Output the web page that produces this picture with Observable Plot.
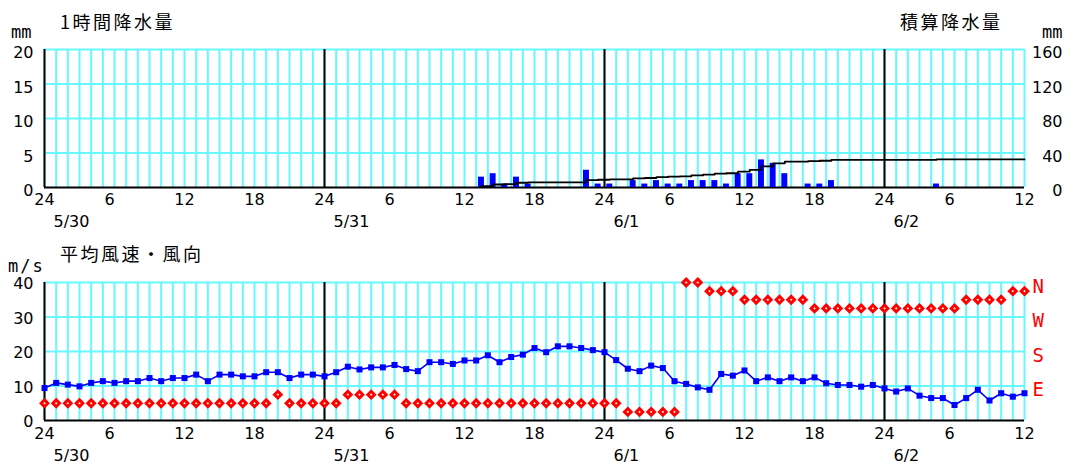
<!DOCTYPE html>
<html><head><meta charset="utf-8">
<script src="https://cdn.jsdelivr.net/npm/d3@7"></script>
<script src="https://cdn.jsdelivr.net/npm/@observablehq/plot@0.6"></script>
<style>
html,body{margin:0;padding:0;background:#fff;overflow:hidden;}
#wrap{position:relative;width:1071px;height:466px;overflow:hidden;background:#fff;}
.t{position:absolute;white-space:nowrap;line-height:1;color:#000;}
.jp{font-family:"Noto Sans CJK JP";font-size:18px;letter-spacing:2.5px;}
.u{font-family:"DejaVu Sans Mono";font-size:17px;}
.p{position:absolute;left:0;}
</style></head><body>
<div id="wrap">
  <div id="p1" class="p" style="top:0"></div>
  <div id="p2" class="p" style="top:232px"></div>
  <div class="t jp" style="left:60px;top:12px">1時間降水量</div>
  <div class="t jp" style="left:900px;top:12px">積算降水量</div>
  <div class="t u" style="left:11px;top:24px">mm</div>
  <div class="t u" style="left:1042px;top:24px">mm</div>
  <div class="t jp" style="left:60px;top:244px">平均風速・風向</div>
  <div class="t u" style="left:8px;top:258px;letter-spacing:2px">m/s</div>
</div>
<script>
// ---- data (hour index 0 = 5/30 00:00, 84 = 6/2 12:00) ----
const dayLabels = ["5/30", "5/31", "6/1", "6/2"];
const dayStartHours = [0, 24, 48, 72];
const xTickHours = [0, 6, 12, 18, 24, 30, 36, 42, 48, 54, 60, 66, 72, 78, 84];
const xTickLabels = ["24", "6", "12", "18", "24", "6", "12", "18", "24", "6", "12", "18", "24", "6", "12"];
const rainTicks = [0, 5, 10, 15, 20];
const rainTickLabels = ["0", "5", "10", "15", "20"];
const cumTickLabels = ["0", "40", "80", "120", "160"];
const windTicks = [0, 10, 20, 30, 40];
const windTickLabels = ["0", "10", "20", "30", "40"];
const dirAxisLabels = ["E", "S", "W", "N"];
const dirAxisValues = [10, 20, 30, 40];

// hourly precipitation: hour index at end of the hour, amount (mm)
const rainHourEnd = [38, 39, 40, 41, 42, 47, 48, 49, 51, 52, 53, 54, 55, 56, 57, 58, 59, 60, 61, 62, 63, 64, 66, 67, 68, 77];
const rainMm =      [1.5, 2.0, 0.5, 1.5, 0.5, 2.5, 0.5, 0.5, 1.0, 0.5, 1.0, 0.5, 0.5, 1.0, 1.0, 1.0, 0.5, 2.0, 2.0, 4.0, 3.5, 2.0, 0.5, 0.5, 1.0, 0.5];

// mean wind speed (m/s), hours 0..84
const windSpeed = [
  9.4, 10.9, 10.4, 9.9, 10.9, 11.4, 10.9, 11.4, 11.4, 12.3, 11.4, 12.3, 12.3, 13.3, 11.4, 13.3, 13.3, 12.8, 12.8, 14.0, 14.0, 12.3, 13.3, 13.3, 12.8,
  14.0, 15.6, 14.8, 15.4, 15.4, 16.1, 14.9, 14.3, 16.9, 16.9, 16.4, 17.4, 17.4, 18.9, 16.9, 18.4, 19.1, 21.0, 19.8, 21.5, 21.5, 21.0, 20.4, 19.8,
  17.5, 15.0, 14.3, 15.9, 15.2, 11.4, 10.6, 9.6, 8.9, 13.5, 13.0, 14.5, 11.4, 12.5, 11.4, 12.5, 11.4, 12.5, 10.8, 10.3, 10.3, 9.8, 10.3, 9.3,
  8.4, 9.3, 7.2, 6.5, 6.5, 4.5, 6.5, 8.9, 5.8, 7.9, 6.9, 7.9
];
// wind direction (16 points), hours 0..84
const windDir = [
  "NE","NE","NE","NE","NE","NE","NE","NE","NE","NE","NE","NE","NE","NE","NE","NE","NE","NE","NE","NE","ENE","NE","NE","NE","NE",
  "NE","ENE","ENE","ENE","ENE","ENE","NE","NE","NE","NE","NE","NE","NE","NE","NE","NE","NE","NE","NE","NE","NE","NE","NE","NE",
  "NE","NNE","NNE","NNE","NNE","NNE","N","N","NNW","NNW","NNW","NW","NW","NW","NW","NW","NW","WNW","WNW","WNW","WNW","WNW","WNW","WNW",
  "WNW","WNW","WNW","WNW","WNW","WNW","NW","NW","NW","NW","NNW","NNW"
];
const compass16 = ["N","NNE","NE","ENE","E","ESE","SE","SSE","S","SSW","SW","WSW","W","WNW","NW","NNW"];

// ---- derived tables ----
const hourGrid = d3.range(0, 85);
const rain = rainHourEnd.map((h, i) => ({h, mm: rainMm[i]}));
const cumRain = d3.cumsum(rainMm);
const cum = rain.map((d, i) => ({x: d.h - 0.55, c: cumRain[i]}));
cum.push({x: 84, c: cumRain[cumRain.length - 1]});
const wind = windSpeed.map((v, i) => {
  const k = compass16.indexOf(windDir[i]);
  return {h: i, speed: v, dir: (k === 0 ? 16 : k) * 2.5};
});
const xt = xTickHours.map((h, i) => ({h, label: xTickLabels[i]}));
const days = dayStartHours.map((h, i) => ({h, label: dayLabels[i]}));

const GRID = "#66f7ff";
const NUM = "DejaVu Sans";

function gridMarks(yGrid) {
  return [
    Plot.ruleX(hourGrid, {stroke: GRID, strokeWidth: 2}),
    Plot.ruleY(yGrid, {stroke: GRID, strokeWidth: 2}),
    Plot.ruleX(dayStartHours, {stroke: "#000", strokeWidth: 2}),
    Plot.ruleY([0], {stroke: "#000", strokeWidth: 2})
  ];
}
function xLabelMarks(dyT, dyD) {
  return [
    Plot.text(xt.filter(d => d.label.length === 2), {x: "h", y: () => 0, text: "label", dy: dyT, fontFamily: NUM, fontSize: 16, fill: "#000"}),
    Plot.text(xt.filter(d => d.label.length === 1), {x: "h", y: () => 0, text: "label", dy: dyT, dx: -5, fontFamily: NUM, fontSize: 16, fill: "#000"}),
    Plot.text(days, {x: "h", y: () => 0, text: "label", dy: dyD, dx: 9, textAnchor: "start", fontFamily: NUM, fontSize: 16, fill: "#000"})
  ];
}

const p1 = Plot.plot({
  width: 1071, height: 232,
  marginLeft: 44, marginRight: 47, marginTop: 49, marginBottom: 45,
  x: {domain: [0, 84], axis: null},
  y: {domain: [0, 20], axis: null},
  style: {background: "transparent", overflow: "visible"},
  marks: [
    ...gridMarks([5, 10, 15, 20]),
    Plot.rectY(rain, {x1: d => d.h - 0.8, x2: d => d.h - 0.29, y: "mm", fill: "#0000ff"}),
    Plot.line(cum, {x: "x", y: d => d.c / 8, curve: "step-after", stroke: "#000", strokeWidth: 1.8}),
    ...xLabelMarks(12, 34),
    Plot.text(rainTicks, {x: () => 0, y: d => d, text: (d, i) => rainTickLabels[i], textAnchor: "end", dx: -11, dy: 3.5, fontFamily: NUM, fontSize: 16, fill: "#000"}),
    Plot.text(rainTicks, {x: () => 84, y: d => d, text: (d, i) => cumTickLabels[i], textAnchor: "end", dx: 38, dy: 3.5, fontFamily: NUM, fontSize: 16, fill: "#000"})
  ]
});
document.getElementById("p1").append(p1);

const p2 = Plot.plot({
  width: 1071, height: 234,
  marginLeft: 44, marginRight: 47, marginTop: 50, marginBottom: 46,
  x: {domain: [0, 84], axis: null},
  y: {domain: [0, 40], axis: null},
  style: {background: "transparent", overflow: "visible"},
  marks: [
    ...gridMarks([10, 20, 30, 40]),
    Plot.line(wind, {x: "h", y: "speed", stroke: "#0000ff", strokeWidth: 1.6}),
    Plot.dot(wind, {x: "h", y: "speed", symbol: "square", r: 3.4, fill: "#0000ff", stroke: null}),
    Plot.dot(wind, {x: "h", y: "dir", symbol: "diamond2", r: 3, fill: "#fff", stroke: "#ff0000", strokeWidth: 3}),
    ...xLabelMarks(13.5, 35),
    Plot.text(windTicks, {x: () => 0, y: d => d, text: (d, i) => windTickLabels[i], textAnchor: "end", dx: -11, dy: 1.5, fontFamily: NUM, fontSize: 16, fill: "#000"}),
    Plot.text(dirAxisValues, {x: () => 84, y: d => d, text: (d, i) => dirAxisLabels[i], textAnchor: "start", dx: 8, dy: 4, fontFamily: "DejaVu Sans Mono", fontSize: 19, fill: "#ff0000"})
  ]
});
document.getElementById("p2").append(p2);
</script>
</body></html>
